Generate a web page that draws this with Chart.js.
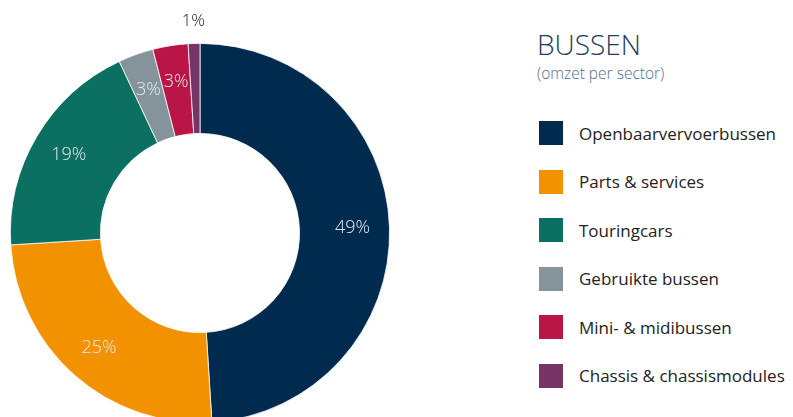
<!DOCTYPE html>
<html>
<head>
<meta charset="utf-8">
<script src="https://cdn.jsdelivr.net/npm/chart.js@4/dist/chart.umd.min.js"></script>
<style>
  html, body { margin: 0; padding: 0; width: 793px; height: 417px; overflow: hidden; background: #fff; }
  #chart-wrap { position: absolute; left: 0; top: 0; width: 400px; height: 466px; }
  #side { position: absolute; left: 537px; top: 26px; font-family: 'Open Sans', sans-serif; }
  .side__title { font-size: 28px; font-weight: 300; color: #1d3d5e; line-height: 36px; }
  .side__sub { font-size: 15.5px; font-weight: 300; color: #4f6d8c; line-height: 20px; margin-top: 1px; }
  #legend { position: absolute; left: 539px; top: 121px; margin: 0; padding: 0; list-style: none; font-family: 'Open Sans', sans-serif; }
  .legend__item { height: 24px; margin-bottom: 24.6px; display: flex; align-items: center; }
  .legend__box { width: 24px; height: 24px; margin-right: 16px; flex: none; }
  .legend__text { font-size: 17px; color: #222; white-space: nowrap; }
</style>
</head>
<body>
<div id="chart-wrap"><canvas id="myChart"></canvas></div>
<div id="side">
  <div class="side__title">BUSSEN</div>
  <div class="side__sub">(omzet per sector)</div>
</div>
<ul id="legend"></ul>
<script>
'use strict';

// Chart data
const sectors = ['Openbaarvervoerbussen', 'Parts & services', 'Touringcars', 'Gebruikte bussen', 'Mini- & midibussen', 'Chassis & chassismodules'];
const shares = [49, 25, 19, 3, 3, 1];
const sectorColors = ['#002b4f', '#f39200', '#0b6f61', '#85939b', '#b91546', '#763467'];

const ctx = document.querySelector('#myChart').getContext('2d');
const legendList = document.querySelector('#legend');

// Legend
sectors.forEach((name, i) => {
  const li = document.createElement('li');
  li.className = 'legend__item';
  li.innerHTML = `<span class="legend__box" style="background:${sectorColors[i]}"></span><span class="legend__text">${name}</span>`;
  legendList.appendChild(li);
});

// Percent labels on the slices (small ones go outside)
const sliceLabels = {
  id: 'sliceLabels',
  afterDatasetsDraw(chart) {
    const c = chart.ctx;
    const meta = chart.getDatasetMeta(0);
    c.save();
    c.textAlign = 'center';
    c.textBaseline = 'middle';
    meta.data.forEach((arc, i) => {
      const p = arc.getProps(['x', 'y', 'startAngle', 'endAngle', 'innerRadius', 'outerRadius'], true);
      const mid = (p.startAngle + p.endAngle) / 2;
      const outside = shares[i] < 2;
      const r = outside ? p.outerRadius + 22 : (p.innerRadius + p.outerRadius) / 2 + 8;
      c.font = outside ? '300 17px "Open Sans", sans-serif' : '300 18px "Open Sans", sans-serif';
      c.fillStyle = outside ? '#222' : '#e4ebf0';
      c.fillText(shares[i] + '%', p.x + Math.cos(mid) * r, p.y + Math.sin(mid) * r);
    });
    c.restore();
  }
};

const myChart = new Chart(ctx, {
  type: 'doughnut',
  data: {
    labels: sectors,
    datasets: [{
      data: shares,
      backgroundColor: sectorColors,
      borderColor: '#ffffff',
      borderWidth: 0.8,
    }],
  },
  options: {
    responsive: true,
    maintainAspectRatio: false,
    animation: false,
    cutout: '52.5%',
    layout: {
      padding: { left: 10, right: 10, top: 43, bottom: 43 }
    },
    plugins: {
      legend: { display: false },
      tooltip: { enabled: false }
    }
  },
  plugins: [sliceLabels]
});
</script>
</body>
</html>
